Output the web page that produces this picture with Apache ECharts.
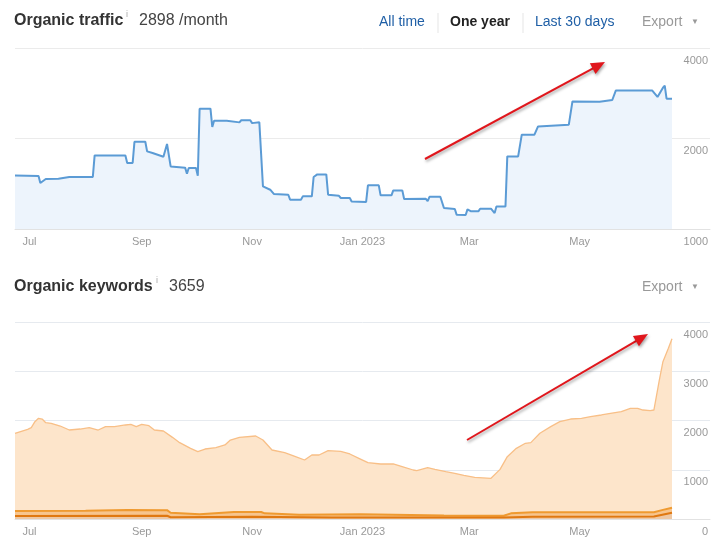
<!DOCTYPE html>
<html>
<head>
<meta charset="utf-8">
<script src="https://cdn.jsdelivr.net/npm/echarts@6.0.0/dist/echarts.min.js"></script>
<style>
html,body{margin:0;padding:0;background:#fff;}
#main{width:726px;height:547px;}
</style>
</head>
<body>
<div id="main"></div>
<script>
// ---------- DATA ----------
const trafficDates = ['2022-06-23','2022-07-06','2022-07-07','2022-07-08','2022-07-10','2022-07-17','2022-07-18','2022-07-23','2022-08-05','2022-08-06','2022-08-23','2022-08-24','2022-08-27','2022-08-28','2022-09-03','2022-09-04','2022-09-07','2022-09-13','2022-09-14','2022-09-15','2022-09-16','2022-09-17','2022-09-25','2022-09-26','2022-09-27','2022-10-01','2022-10-02','2022-10-03','2022-10-09','2022-10-10','2022-10-11','2022-10-18','2022-10-19','2022-10-25','2022-10-26','2022-10-31','2022-11-01','2022-11-05','2022-11-06','2022-11-07','2022-11-11','2022-11-12','2022-11-13','2022-11-21','2022-11-22','2022-11-28','2022-11-29','2022-12-04','2022-12-05','2022-12-07','2022-12-12','2022-12-13','2022-12-19','2022-12-20','2022-12-25','2022-12-26','2023-01-03','2023-01-04','2023-01-10','2023-01-11','2023-01-17','2023-01-18','2023-01-23','2023-01-24','2023-02-05','2023-02-06','2023-02-07','2023-02-13','2023-02-15','2023-02-21','2023-02-22','2023-02-27','2023-02-28','2023-03-02','2023-03-06','2023-03-07','2023-03-13','2023-03-15','2023-03-16','2023-03-21','2023-03-22','2023-03-28','2023-03-30','2023-04-06','2023-04-08','2023-04-09','2023-04-25','2023-04-27','2023-05-12','2023-05-13','2023-05-19','2023-05-21','2023-06-10','2023-06-13','2023-06-14','2023-06-16','2023-06-17','2023-06-18','2023-06-21'];
const trafficValues = [1507,1500,1422,1430,1466,1470,1484,1490,1490,1757,1757,1658,1658,1950,1950,1812,1790,1740,1736,1918,1900,1615,1600,1527,1595,1595,1504,2513,2513,2184,2292,2292,2263,2263,2300,2300,2250,2263,2260,1386,1351,1351,1308,1300,1252,1252,1284,1284,1489,1519,1519,1300,1290,1268,1268,1235,1230,1397,1397,1294,1294,1344,1344,1258,1260,1239,1280,1280,1174,1166,1116,1113,1162,1145,1145,1168,1168,1130,1189,1189,1744,1744,2059,2059,2194,2223,2223,2657,2650,2686,2686,2891,2891,2749,2790,2950,2996,2713,2713];

const kwDates = ['2022-06-23','2022-06-30','2022-07-02','2022-07-04','2022-07-06','2022-07-08','2022-07-10','2022-07-13','2022-07-18','2022-07-23','2022-07-29','2022-08-03','2022-08-08','2022-08-12','2022-08-17','2022-08-23','2022-08-26','2022-08-29','2022-09-01','2022-09-05','2022-09-08','2022-09-13','2022-09-18','2022-09-22','2022-09-28','2022-10-02','2022-10-06','2022-10-12','2022-10-17','2022-10-20','2022-10-25','2022-11-03','2022-11-07','2022-11-12','2022-11-19','2022-11-25','2022-11-30','2022-12-04','2022-12-08','2022-12-13','2022-12-20','2022-12-25','2022-12-30','2022-12-31','2023-01-04','2023-01-11','2023-01-18','2023-01-22','2023-01-29','2023-01-31','2023-02-06','2023-02-10','2023-02-16','2023-02-21','2023-02-26','2023-03-04','2023-03-13','2023-03-14','2023-03-18','2023-03-22','2023-03-27','2023-04-01','2023-04-04','2023-04-09','2023-04-15','2023-04-20','2023-04-26','2023-05-02','2023-05-07','2023-05-13','2023-05-18','2023-05-24','2023-05-29','2023-06-02','2023-06-05','2023-06-09','2023-06-11','2023-06-14','2023-06-16','2023-06-19','2023-06-21'];
const kwValues = [1740,1821,1854,1976,2044,2030,1956,1943,1888,1807,1827,1854,1807,1875,1875,1909,1920,1875,1920,1895,1807,1787,1658,1550,1435,1367,1421,1448,1503,1604,1658,1685,1604,1401,1347,1266,1198,1300,1300,1387,1374,1320,1232,1212,1144,1117,1117,1076,995,981,1042,1008,961,927,887,846,826,806,1008,1266,1435,1537,1550,1740,1875,1976,2030,2044,2078,2112,2146,2180,2247,2247,2213,2200,2213,2822,3194,3466,3659];

const kwTop10Dates = ['2022-06-23','2022-08-01','2022-08-24','2022-09-15','2022-09-17','2022-10-03','2022-10-22','2022-11-06','2022-11-08','2022-11-27','2022-12-31','2023-02-15','2023-03-20','2023-03-24','2023-04-05','2023-06-11','2023-06-16','2023-06-21'];
const kwTop10Values = [160,165,183,180,128,95,142,142,115,87,95,70,67,115,136,136,185,230];

const kwTop3Dates = ['2022-06-23','2022-09-15','2022-09-17','2022-11-01','2022-12-15','2023-03-20','2023-04-05','2023-06-11','2023-06-21'];
const kwTop3Values = [60,65,35,45,30,30,45,50,125];

const monthTicks = ['2022-07-01','2022-09-01','2022-11-01','2023-01-01','2023-03-01','2023-05-01'];
const monthNames = ['Jan','Feb','Mar','Apr','May','Jun','Jul','Aug','Sep','Oct','Nov','Dec'];
const trafficTickLabels = ['1000','2000','4000'];
const kwTickLabels = ['0','1000','2000','3000','4000'];
const xStart = '2022-06-23';
const xEnd = '2023-07-12';

// ---------- CHART ----------
const FONT = '"Liberation Sans", Arial, sans-serif';
function ts(s){ const p = s.split('-'); return Date.UTC(+p[0], +p[1]-1, +p[2]); }
function pairs(dates, vals){ return dates.map(function(d,i){ return [ts(d), vals[i]]; }); }
const tickTs = monthTicks.map(ts);

function monthFmt(v){
  const d = new Date(v);
  const m = d.getUTCMonth();
  return m === 0 ? monthNames[m] + ' ' + d.getUTCFullYear() : monthNames[m];
}

function xAxisFor(gi){
  return {
    type:'value', gridIndex:gi, min:ts(xStart), max:ts(xEnd),
    axisLine:{show:true, lineStyle:{color:'#e2e2e2', width:1}},
    axisTick:{show:true, inside:true, length:5, lineStyle:{color:'#d8d8d8'}, customValues:tickTs},
    axisLabel:{customValues:tickTs, formatter:monthFmt, color:'#999', fontSize:11, fontFamily:FONT, margin:7, hideOverlap:false},
    splitLine:{show:false}
  };
}

const rightLabel = {
  inside:true, margin:2, color:'#999', fontSize:11, fontFamily:FONT,
  verticalAlign:'top', padding:[7,0,0,0]
};

const chart = echarts.init(document.getElementById('main'));

function arrow(x1,y1,x2,y2){
  const dx=x2-x1, dy=y2-y1, L=Math.sqrt(dx*dx+dy*dy);
  const ux=dx/L, uy=dy/L, px=-uy, py=ux;
  const hl=14, hw=6;
  const bx=x2-ux*hl, by=y2-uy*hl;
  const shadow={shadowColor:'rgba(0,0,0,0.35)', shadowBlur:3, shadowOffsetX:1, shadowOffsetY:2};
  return [
    {type:'line', shape:{x1:x1,y1:y1,x2:bx+ux*2,y2:by+uy*2}, style:Object.assign({stroke:'#e0161c', lineWidth:2}, shadow), z:100},
    {type:'polygon', shape:{points:[[x2,y2],[bx+px*hw,by+py*hw],[bx-px*hw,by-py*hw]]}, style:Object.assign({fill:'#e0161c'}, shadow), z:100}
  ];
}

function txt(x,y,text,font,fill,align){
  return {type:'text', x:x, y:y, z:50, style:{text:text, font:font, fill:fill, align:align||'left', verticalAlign:'middle'}};
}

const graphics = [
  txt(14,21,'Organic traffic','bold 16px '+FONT,'#333'),
  txt(126,15,'i','9px '+FONT,'#aaa'),
  txt(139,21,'2898 /month','16px '+FONT,'#444'),
  txt(379,22,'All time','14px '+FONT,'#1f5fa6'),
  {type:'rect', shape:{x:437.5,y:13,width:1,height:20}, style:{fill:'#e6e6e6'}},
  txt(450,22,'One year','bold 14px '+FONT,'#222'),
  {type:'rect', shape:{x:522.5,y:13,width:1,height:20}, style:{fill:'#e6e6e6'}},
  txt(535,22,'Last 30 days','14px '+FONT,'#1f5fa6'),
  txt(642,22,'Export','14px '+FONT,'#999'),
  txt(691,22,'\u25BC','8px '+FONT,'#999'),
  txt(14,287,'Organic keywords','bold 16px '+FONT,'#333'),
  txt(156,281,'i','9px '+FONT,'#aaa'),
  txt(169,287,'3659','16px '+FONT,'#444'),
  txt(642,287,'Export','14px '+FONT,'#999'),
  txt(691,287,'\u25BC','8px '+FONT,'#999')
].concat(arrow(425,159,605,62), arrow(467,440,648,334));

const option = {
  animation:false,
  backgroundColor:'#fff',
  grid:[
    {left:15, right:16, top:48, height:181},
    {left:15, right:16, top:322, height:197}
  ],
  xAxis:[xAxisFor(0), xAxisFor(1)],
  yAxis:[
    {type:'log', logBase:2, gridIndex:0, min:1000, max:4000, show:false},
    {type:'value', gridIndex:0, min:0, max:2, interval:1, position:'right',
     axisLine:{show:false}, axisTick:{show:false},
     splitLine:{show:true, lineStyle:{color:'#ebebeb'}},
     axisLabel:Object.assign({formatter:function(v){return trafficTickLabels[v];}}, rightLabel)},
    {type:'value', gridIndex:1, min:0, max:4000, interval:1000, position:'right',
     axisLine:{show:false}, axisTick:{show:false},
     splitLine:{show:true, lineStyle:{color:'#e6eaef'}},
     axisLabel:Object.assign({formatter:function(v){return kwTickLabels[v/1000];}}, rightLabel)}
  ],
  series:[
    {type:'line', xAxisIndex:0, yAxisIndex:0, symbol:'none',
     data:pairs(trafficDates, trafficValues),
     lineStyle:{color:'#5b9bd5', width:2}, itemStyle:{color:'#5b9bd5'},
     areaStyle:{color:'#edf4fc', opacity:1, origin:'start'}},
    {type:'line', xAxisIndex:1, yAxisIndex:2, symbol:'none',
     data:pairs(kwDates, kwValues),
     lineStyle:{color:'#f8bf87', width:1.3}, itemStyle:{color:'#f8bf87'},
     areaStyle:{color:'#fde5cb', opacity:1, origin:'start'}},
    {type:'line', xAxisIndex:1, yAxisIndex:2, symbol:'none',
     data:pairs(kwTop10Dates, kwTop10Values),
     lineStyle:{color:'#ef9a30', width:2}, itemStyle:{color:'#ef9a30'},
     areaStyle:{color:'#f7c58e', opacity:1, origin:'start'}},
    {type:'line', xAxisIndex:1, yAxisIndex:2, symbol:'none',
     data:pairs(kwTop3Dates, kwTop3Values),
     lineStyle:{color:'#e07810', width:2}, itemStyle:{color:'#e07810'},
     areaStyle:{color:'#eec7a2', opacity:1, origin:'start'}}
  ],
  graphic:graphics
};
chart.setOption(option);
</script>
</body>
</html>
